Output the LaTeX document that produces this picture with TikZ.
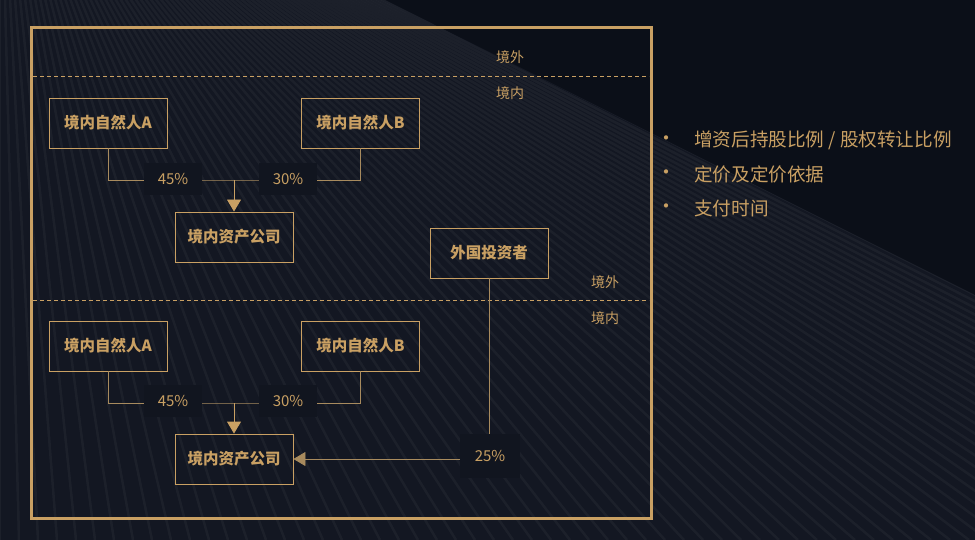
\documentclass[tikz,border=0pt]{standalone}
\usepackage{fontspec}
\setmainfont{Noto Sans CJK SC}
\usetikzlibrary{arrows.meta}
\definecolor{bgdark}{HTML}{0B0F18}
\definecolor{bglite}{HTML}{131722}
\definecolor{lblbg}{HTML}{11151F}
\definecolor{gold}{HTML}{C9A063}
\definecolor{goldline}{HTML}{A88B5E}
\begin{document}
\begin{tikzpicture}[x=1pt,y=-1pt,
  entity/.style={draw=gold,line width=0.9pt,minimum width=118pt,minimum height=50pt,inner sep=0pt,
    text=gold,font=\fontsize{15.5}{18}\selectfont\bfseries},
  pct/.style={fill=lblbg,text=gold,inner sep=0pt,minimum width=58pt,minimum height=32pt,
    font=\fontsize{15}{18}\selectfont},
  zone/.style={text=gold,font=\fontsize{14}{16}\selectfont,inner sep=0pt},
  conn/.style={draw=goldline,line width=0.9pt},
  tip/.style={-{Triangle[length=12pt,width=14pt,fill=gold,color=gold]}},
  ftip/.style={-{Triangle[length=12pt,width=14pt,fill=goldline,color=goldline]}},
  bullet/.style={text=gold,font=\fontsize{18.6}{22}\selectfont,inner sep=0pt,anchor=west},
  dot/.style={text=gold,font=\fontsize{20}{22}\selectfont,inner sep=0pt}
]
\useasboundingbox (0,0) rectangle (975,540);
% background
\fill[bgdark] (0,0) rectangle (975,540);
\fill[bglite] (385,0) -- (975,295) -- (975,540) -- (0,540) -- (0,0) -- cycle;
\begin{scope}
  \clip (385,0) -- (975,295) -- (975,540) -- (0,540) -- (0,0) -- cycle;
  \foreach \x in {0,19,...,1480} {
    \draw[white,opacity=0.04,line width=2.5pt] (0,-195) -- (\x,540);
  }
\end{scope}
% frame
\draw[gold,line width=3pt] (31,28) rectangle (651,518);
\draw[gold,line width=0.8pt,dash pattern=on 4pt off 3pt] (33,76) -- (649,76);
\draw[gold,line width=0.8pt,dash pattern=on 4pt off 3pt] (33,300) -- (649,300);
\node[zone] (out1) at (510,57) {境外};
\node[zone] (in1) at (510,93) {境内};
\node[zone] (out2) at (605,282) {境外};
\node[zone] (in2) at (605,318) {境内};
% upper structure
\node[entity] (A1) at (108,123) {境内自然人A};
\node[entity] (B1) at (360.5,123) {境内自然人B};
\node[entity] (C1) at (234,237) {境内资产公司};
\coordinate (J1) at (234,180);
\draw[conn] (A1.south) |- (J1) -| (B1.south);
\draw[conn,draw=gold,tip] (J1) -- (C1.north);
\node[pct] (pA1) at (173,179) {45\%};
\node[pct] (pB1) at (288,179) {30\%};
% foreign investor
\node[entity] (F) at (489,253) {外国投资者};
% lower structure
\node[entity] (A2) at (108,346) {境内自然人A};
\node[entity] (B2) at (360.5,346) {境内自然人B};
\node[entity] (C2) at (234,459) {境内资产公司};
\coordinate (J2) at (234,403);
\draw[conn] (A2.south) |- (J2) -| (B2.south);
\draw[conn,draw=gold,tip] (J2) -- (C2.north);
\node[pct] (pA2) at (173,401) {45\%};
\node[pct] (pB2) at (288,401) {30\%};
\draw[conn,ftip] (F.south) |- (C2.east);
\node[pct,minimum width=60pt,minimum height=44pt] (pF) at (490,456) {25\%};
% bullets
\node[bullet] (b1) at (694,140) {增资后持股比例 / 股权转让比例};
\node[bullet] (b2) at (694,174) {定价及定价依据};
\node[bullet] (b3) at (694,208) {支付时间};
\node[dot] (d1) at (666,141) {•};
\node[dot] (d2) at (666,175) {•};
\node[dot] (d3) at (666,209) {•};
\end{tikzpicture}
\end{document}
